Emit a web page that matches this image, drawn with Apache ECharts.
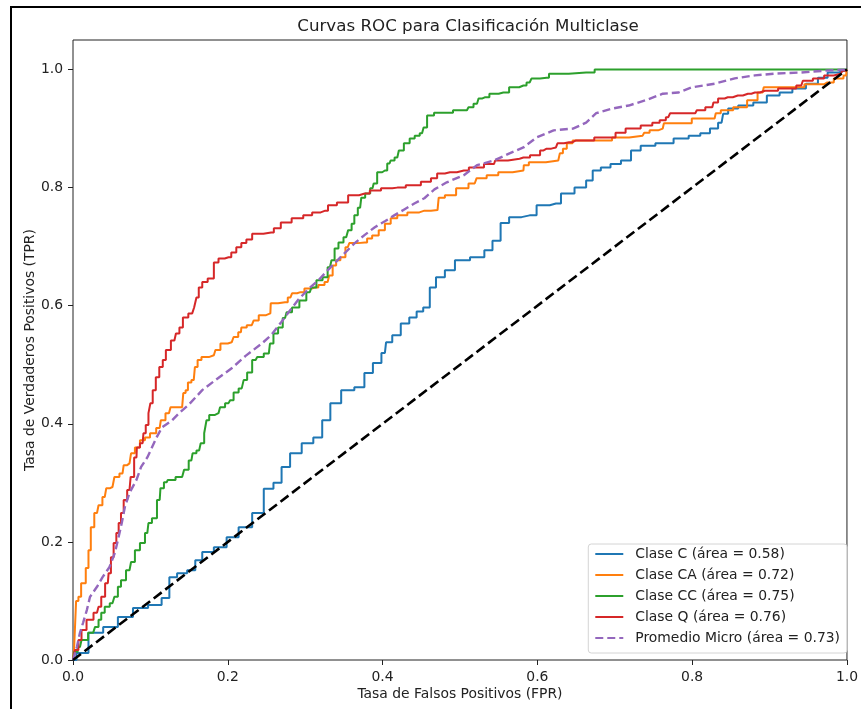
<!DOCTYPE html>
<html>
<head>
<meta charset="utf-8">
<script src="https://cdn.jsdelivr.net/npm/echarts@6/dist/echarts.min.js"></script>
<style>
  html, body { margin: 0; padding: 0; background: #fff; }
  #chart { width: 861px; height: 709px; }
</style>
</head>
<body>
<div id="chart"></div>
<script>
// curvas ROC: pares [FPR, TPR]
var claseC = [[0,0],[0.009,0.012],[0.031,0.046],[0.047,0.056],[0.069,0.073],[0.086,0.088],[0.108,0.093],[0.121,0.105],[0.128,0.14],[0.141,0.147],[0.154,0.152],[0.162,0.169],[0.172,0.183],[0.192,0.191],[0.205,0.208],[0.223,0.225],[0.24,0.249],[0.253,0.29],[0.265,0.30],[0.274,0.327],[0.287,0.35],[0.304,0.367],[0.317,0.377],[0.327,0.406],[0.338,0.435],[0.355,0.457],[0.372,0.462],[0.381,0.486],[0.394,0.503],[0.403,0.52],[0.406,0.538],[0.419,0.55],[0.428,0.57],[0.441,0.58],[0.447,0.59],[0.458,0.597],[0.464,0.631],[0.474,0.648],[0.487,0.66],[0.5,0.677],[0.526,0.682],[0.537,0.694],[0.547,0.71],[0.558,0.74],[0.569,0.75],[0.59,0.753],[0.608,0.77],[0.624,0.773],[0.637,0.79],[0.659,0.80],[0.667,0.812],[0.676,0.829],[0.688,0.834],[0.701,0.84],[0.715,0.846],[0.727,0.863],[0.74,0.871],[0.765,0.875],[0.787,0.883],[0.804,0.888],[0.817,0.892],[0.829,0.9],[0.838,0.91],[0.842,0.925],[0.851,0.934],[0.868,0.939],[0.89,0.944],[0.903,0.956],[0.923,0.961],[0.936,0.968],[0.958,0.976],[0.967,0.986],[0.983,0.995],[0.996,0.998],[1,1]];
var claseCA = [[0,0],[0.003,0.022],[0.005,0.10],[0.009,0.107],[0.012,0.13],[0.015,0.13],[0.018,0.156],[0.022,0.186],[0.024,0.225],[0.031,0.249],[0.035,0.262],[0.041,0.276],[0.045,0.291],[0.051,0.293],[0.056,0.31],[0.064,0.316],[0.067,0.33],[0.073,0.333],[0.077,0.35],[0.083,0.36],[0.09,0.372],[0.096,0.377],[0.103,0.384],[0.112,0.393],[0.115,0.406],[0.124,0.418],[0.128,0.428],[0.141,0.428],[0.144,0.452],[0.147,0.457],[0.15,0.47],[0.156,0.474],[0.159,0.496],[0.163,0.508],[0.169,0.513],[0.182,0.516],[0.186,0.525],[0.195,0.536],[0.205,0.538],[0.21,0.547],[0.217,0.555],[0.218,0.563],[0.231,0.567],[0.236,0.575],[0.244,0.584],[0.255,0.587],[0.256,0.604],[0.274,0.606],[0.281,0.614],[0.285,0.621],[0.294,0.623],[0.304,0.629],[0.313,0.631],[0.321,0.635],[0.329,0.64],[0.333,0.651],[0.338,0.668],[0.342,0.677],[0.349,0.682],[0.355,0.699],[0.359,0.706],[0.377,0.707],[0.383,0.714],[0.39,0.719],[0.4,0.728],[0.406,0.739],[0.415,0.748],[0.423,0.753],[0.441,0.758],[0.454,0.761],[0.471,0.762],[0.474,0.783],[0.487,0.787],[0.503,0.799],[0.519,0.807],[0.524,0.816],[0.545,0.821],[0.554,0.826],[0.582,0.829],[0.583,0.838],[0.595,0.843],[0.627,0.846],[0.631,0.858],[0.635,0.866],[0.641,0.875],[0.65,0.88],[0.692,0.88],[0.701,0.885],[0.736,0.888],[0.74,0.893],[0.75,0.897],[0.762,0.90],[0.765,0.909],[0.791,0.909],[0.808,0.917],[0.829,0.917],[0.832,0.926],[0.842,0.931],[0.864,0.936],[0.878,0.948],[0.891,0.961],[0.894,0.97],[0.923,0.97],[0.967,0.975],[0.974,0.978],[0.992,0.985],[0.999,0.99],[1,1]];
var claseCC = [[0,0],[0.003,0.014],[0.009,0.022],[0.013,0.034],[0.026,0.046],[0.031,0.056],[0.035,0.068],[0.038,0.08],[0.044,0.09],[0.051,0.096],[0.056,0.107],[0.06,0.124],[0.064,0.135],[0.073,0.152],[0.077,0.166],[0.083,0.186],[0.09,0.198],[0.096,0.215],[0.099,0.232],[0.105,0.24],[0.112,0.271],[0.114,0.291],[0.121,0.301],[0.124,0.305],[0.141,0.31],[0.146,0.322],[0.153,0.338],[0.156,0.35],[0.163,0.355],[0.167,0.367],[0.172,0.384],[0.173,0.406],[0.179,0.415],[0.188,0.418],[0.192,0.428],[0.201,0.435],[0.205,0.44],[0.21,0.453],[0.218,0.46],[0.223,0.474],[0.227,0.487],[0.236,0.508],[0.24,0.513],[0.253,0.519],[0.256,0.536],[0.262,0.553],[0.268,0.563],[0.274,0.579],[0.278,0.589],[0.288,0.597],[0.297,0.609],[0.306,0.623],[0.31,0.631],[0.319,0.643],[0.326,0.648],[0.332,0.665],[0.336,0.677],[0.34,0.697],[0.346,0.707],[0.353,0.716],[0.358,0.728],[0.362,0.739],[0.365,0.753],[0.371,0.766],[0.374,0.783],[0.381,0.79],[0.387,0.799],[0.39,0.807],[0.396,0.826],[0.403,0.829],[0.409,0.841],[0.412,0.846],[0.419,0.851],[0.423,0.863],[0.432,0.875],[0.438,0.883],[0.445,0.888],[0.451,0.892],[0.455,0.902],[0.46,0.922],[0.473,0.927],[0.509,0.931],[0.513,0.936],[0.522,0.942],[0.526,0.951],[0.532,0.953],[0.544,0.959],[0.556,0.961],[0.571,0.97],[0.582,0.973],[0.59,0.978],[0.595,0.985],[0.612,0.986],[0.618,0.993],[0.663,0.995],[0.685,1.0],[1,1]];
var claseQ = [[0,0],[0.005,0.017],[0.009,0.034],[0.013,0.051],[0.022,0.068],[0.031,0.08],[0.035,0.09],[0.038,0.107],[0.045,0.13],[0.047,0.147],[0.051,0.174],[0.054,0.198],[0.058,0.215],[0.06,0.232],[0.064,0.249],[0.067,0.271],[0.073,0.288],[0.076,0.31],[0.082,0.343],[0.083,0.36],[0.09,0.367],[0.092,0.384],[0.096,0.398],[0.099,0.418],[0.101,0.435],[0.105,0.457],[0.109,0.479],[0.114,0.496],[0.118,0.508],[0.122,0.525],[0.131,0.541],[0.135,0.553],[0.14,0.563],[0.144,0.58],[0.154,0.587],[0.159,0.597],[0.16,0.614],[0.165,0.631],[0.169,0.64],[0.179,0.646],[0.185,0.673],[0.191,0.68],[0.201,0.682],[0.208,0.69],[0.214,0.699],[0.221,0.706],[0.227,0.712],[0.236,0.722],[0.256,0.724],[0.263,0.731],[0.274,0.741],[0.291,0.748],[0.304,0.753],[0.314,0.758],[0.326,0.761],[0.333,0.77],[0.349,0.775],[0.362,0.787],[0.377,0.79],[0.39,0.795],[0.406,0.799],[0.419,0.80],[0.441,0.804],[0.458,0.81],[0.467,0.816],[0.474,0.824],[0.487,0.826],[0.505,0.829],[0.518,0.834],[0.544,0.84],[0.547,0.846],[0.577,0.849],[0.582,0.851],[0.599,0.855],[0.608,0.863],[0.612,0.866],[0.624,0.868],[0.628,0.875],[0.641,0.877],[0.65,0.88],[0.697,0.885],[0.705,0.893],[0.723,0.90],[0.744,0.905],[0.753,0.91],[0.763,0.914],[0.769,0.919],[0.774,0.926],[0.804,0.926],[0.808,0.931],[0.826,0.936],[0.829,0.944],[0.838,0.951],[0.846,0.953],[0.859,0.956],[0.872,0.959],[0.881,0.961],[0.894,0.964],[0.928,0.968],[0.941,0.973],[0.945,0.981],[0.967,0.985],[0.974,0.99],[0.992,0.993],[0.996,0.998],[1,1]];
var promedioMicro = [[0,0],[0.005,0.022],[0.009,0.046],[0.013,0.063],[0.018,0.085],[0.022,0.107],[0.031,0.124],[0.038,0.14],[0.047,0.157],[0.054,0.181],[0.058,0.203],[0.063,0.232],[0.067,0.259],[0.073,0.283],[0.082,0.305],[0.088,0.327],[0.096,0.343],[0.108,0.377],[0.115,0.394],[0.128,0.406],[0.137,0.418],[0.15,0.433],[0.167,0.457],[0.186,0.476],[0.205,0.494],[0.223,0.515],[0.244,0.536],[0.256,0.55],[0.269,0.572],[0.278,0.588],[0.291,0.61],[0.304,0.628],[0.317,0.643],[0.329,0.66],[0.338,0.672],[0.351,0.689],[0.364,0.706],[0.377,0.72],[0.39,0.733],[0.403,0.743],[0.415,0.753],[0.428,0.763],[0.441,0.773],[0.454,0.782],[0.467,0.797],[0.483,0.809],[0.505,0.821],[0.522,0.838],[0.544,0.846],[0.564,0.858],[0.582,0.868],[0.599,0.885],[0.621,0.897],[0.646,0.90],[0.663,0.91],[0.676,0.926],[0.697,0.934],[0.718,0.939],[0.74,0.948],[0.762,0.959],[0.782,0.961],[0.80,0.97],[0.829,0.976],[0.855,0.985],[0.881,0.99],[0.906,0.993],[0.941,0.995],[0.971,0.998],[1,1]];
var diagonal = [[0,0],[1,1]];

var nombres = ['Clase C (área = 0.58)', 'Clase CA (área = 0.72)', 'Clase CC (área = 0.75)', 'Clase Q (área = 0.76)', 'Promedio Micro (área = 0.73)'];
var ticks = [0, 0.2, 0.4, 0.6, 0.8, 1.0];

var fuente = 'DejaVu Sans';
var chart = echarts.init(document.getElementById('chart'));

function ejeBase() {
  return {
    type: 'value',
    axisLine: { show: false },
    splitLine: { show: false },
    axisTick: { show: true, length: 5, customValues: ticks, lineStyle: { color: '#222', width: 1 } },
    axisLabel: {
      customValues: ticks,
      color: '#222',
      fontFamily: fuente,
      fontSize: 13.9,
      margin: 10,
      formatter: function (v) { return v.toFixed(1); }
    },
    nameLocation: 'middle',
    nameMoveOverlap: false,
    nameTextStyle: { color: '#222', fontFamily: fuente, fontSize: 13.9 }
  };
}

var xAxis = ejeBase();
xAxis.min = 0;
xAxis.max = 1;
xAxis.name = 'Tasa de Falsos Positivos (FPR)';
xAxis.nameGap = 27;

var yAxis = ejeBase();
yAxis.min = 0;
yAxis.max = 1.05;
yAxis.name = 'Tasa de Verdaderos Positivos (TPR)';
yAxis.nameGap = 36;

function curva(nombre, datos, color) {
  return {
    name: nombre,
    type: 'line',
    data: datos,
    step: 'middle',
    symbol: 'none',
    lineStyle: { color: color, width: 2 },
    itemStyle: { color: color }
  };
}

chart.setOption({
  animation: false,
  backgroundColor: '#fff',
  title: {
    text: 'Curvas ROC para Clasificación Multiclase',
    left: 463,
    top: 13,
    textAlign: 'center',
    textStyle: { color: '#222', fontFamily: fuente, fontSize: 16.7, fontWeight: 'normal' }
  },
  grid: {
    left: 73, right: 8, top: 40, bottom: 49,
    show: true,
    borderColor: '#222',
    borderWidth: 1
  },
  legend: {
    data: nombres,
    orient: 'vertical',
    right: 14,
    bottom: 56,
    itemWidth: 28,
    itemHeight: 14,
    itemGap: 7,
    padding: [3, 7, 8, 6],
    itemStyle: { opacity: 0 },
    backgroundColor: 'rgba(255,255,255,0.8)',
    borderColor: '#d4d4d4',
    borderWidth: 1,
    borderRadius: 3,
    textStyle: { color: '#222', fontFamily: fuente, fontSize: 13.9, padding: [0, 0, 0, 7] }
  },
  graphic: [{
    type: 'rect',
    shape: { x: 11, y: 7, width: 900, height: 800 },
    style: { fill: 'none', stroke: '#000', lineWidth: 2 },
    silent: true
  }],
  xAxis: xAxis,
  yAxis: yAxis,
  series: [
    curva(nombres[0], claseC, '#1f77b4'),
    curva(nombres[1], claseCA, '#ff7f0e'),
    curva(nombres[2], claseCC, '#2ca02c'),
    curva(nombres[3], claseQ, '#d62728'),
    {
      name: nombres[4],
      type: 'line',
      data: promedioMicro,
      symbol: 'none',
      lineStyle: { color: '#9467bd', width: 2.4, type: [8, 4] },
      itemStyle: { color: '#9467bd' }
    },
    {
      name: 'diagonal',
      type: 'line',
      data: diagonal,
      symbol: 'none',
      lineStyle: { color: '#000', width: 2.6, type: [10, 4.5] }
    }
  ]
});
</script>
</body>
</html>
